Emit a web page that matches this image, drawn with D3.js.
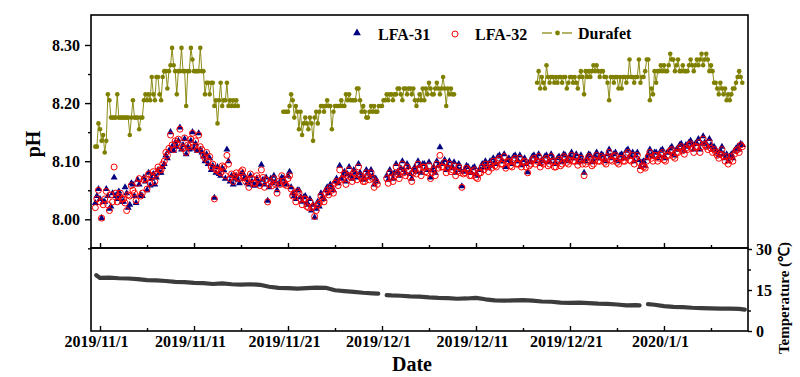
<!DOCTYPE html>
<html><head><meta charset="utf-8">
<script src="https://cdn.jsdelivr.net/npm/d3@7"></script>
<style>
body{margin:0;background:#fff}
svg{display:block}
text{font-family:"Liberation Serif","Times New Roman",serif;font-weight:bold;fill:#000}
</style>
</head><body>
<svg id="c" width="800" height="377"></svg>
<script>
// ---------- data ----------
const tickDays   = [0, 10, 20, 30, 40, 50, 60];
const tickLabels = ["2019/11/1","2019/11/11","2019/11/21","2019/12/1","2019/12/11","2019/12/21","2020/1/1"];
const minorTickDays = [5, 15, 25, 35, 45, 55, 65];
const phTicks = [8.00, 8.10, 8.20, 8.30];
const phMinorTicks = [7.95, 8.05, 8.15, 8.25];
const tempTicks = [0, 15, 30];
const tempMinorTicks = [7.5, 22.5];
const seriesNames = ["LFA-31", "LFA-32", "Durafet"];

// pH samples: 6 per day, first sample at day -0.5 (day 0 = 2019/11/1); one row per day
const sampleStartDay = -0.5, samplesPerDay = 6;

const lfa31 = [
 8.028,8.040,8.052,8.035,8.002,8.030,
 8.030,8.052,8.040,8.018,8.022,8.045,
 8.072,8.040,8.035,8.048,8.040,8.030,
 8.030,8.055,8.045,8.020,8.025,8.062,
 8.060,8.040,8.028,8.068,8.060,8.042,
 8.040,8.072,8.065,8.050,8.080,8.058,
 8.070,8.078,8.060,8.072,8.085,8.080,
 8.080,8.090,8.095,8.110,8.105,8.118,
 8.150,8.125,8.118,8.132,8.125,8.135,
 8.158,8.120,8.128,8.138,8.112,8.125,
 8.120,8.135,8.150,8.122,8.130,8.118,
 8.148,8.120,8.115,8.108,8.100,8.112,
 8.095,8.105,8.085,8.092,8.037,8.080,
 8.090,8.078,8.075,8.088,8.085,8.070,
 8.120,8.100,8.065,8.075,8.060,8.070,
 8.075,8.068,8.062,8.078,8.080,8.070,
 8.070,8.062,8.060,8.075,8.065,8.058,
 8.058,8.070,8.065,8.060,8.094,8.068,
 8.060,8.072,8.032,8.055,8.070,8.062,
 8.075,8.065,8.050,8.060,8.065,8.072,
 8.070,8.062,8.060,8.075,8.082,8.055,
 8.045,8.040,8.035,8.050,8.050,8.038,
 8.030,8.038,8.040,8.028,8.025,8.035,
 8.015,8.025,8.003,8.018,8.030,8.022,
 8.045,8.038,8.035,8.050,8.055,8.045,
 8.060,8.055,8.050,8.065,8.070,8.062,
 8.092,8.070,8.075,8.082,8.065,8.078,
 8.090,8.075,8.070,8.085,8.080,8.072,
 8.095,8.080,8.075,8.068,8.070,8.085,
 8.080,8.072,8.085,8.075,8.060,8.070,
 8.065,null,null,null,null,null,
 8.075,8.068,8.085,8.078,8.070,8.080,
 8.095,8.082,8.075,8.088,8.100,8.085,
 8.080,8.095,8.090,8.078,8.070,8.085,
 8.090,8.082,8.100,8.092,8.080,8.095,
 8.095,8.088,8.085,8.098,8.072,8.085,
 8.090,8.080,8.100,8.092,8.124,8.095,
 8.095,8.102,8.085,8.092,8.100,8.088,
 8.090,8.098,8.080,8.088,8.095,8.085,
 8.057,8.082,8.085,8.092,8.090,8.080,
 8.080,8.088,8.090,8.078,8.075,8.085,
 8.085,8.095,8.090,8.100,8.095,8.088,
 8.100,8.092,8.105,8.098,8.095,8.108,
 8.110,8.100,8.100,8.112,8.090,8.102,
 8.105,8.098,8.095,8.108,8.110,8.100,
 8.100,8.110,8.093,8.102,8.105,8.095,
 8.081,8.098,8.100,8.108,8.110,8.100,
 8.105,8.112,8.095,8.102,8.100,8.108,
 8.110,8.098,8.100,8.112,8.105,8.095,
 8.095,8.105,8.108,8.098,8.100,8.112,
 8.110,8.102,8.100,8.108,8.115,8.105,
 8.105,8.112,8.098,8.105,8.110,8.100,
 8.080,8.100,8.105,8.112,8.110,8.098,
 8.100,8.108,8.115,8.105,8.105,8.112,
 8.110,8.102,8.100,8.112,8.120,8.108,
 8.105,8.112,8.115,8.102,8.100,8.110,
 8.112,8.105,8.105,8.118,8.120,8.108,
 8.108,8.115,8.100,8.110,8.115,8.102,
 8.090,8.098,8.100,8.092,8.105,8.112,
 8.120,8.110,8.108,8.115,8.115,8.105,
 8.110,8.118,8.120,8.108,8.105,8.115,
 8.115,8.122,8.125,8.112,8.110,8.120,
 8.120,8.128,8.130,8.122,8.118,8.128,
 8.125,8.132,8.135,8.128,8.120,8.130,
 8.130,8.138,8.120,8.130,8.143,8.132,
 8.130,8.125,8.138,8.128,8.120,8.125,
 8.120,8.115,8.110,8.118,8.125,8.112,
 8.105,8.112,8.100,8.108,8.112,8.105,
 8.118,8.122,8.125,8.120,8.130,8.128
];

const lfa32 = [
 8.020,8.035,8.050,8.030,8.002,8.025,
 8.035,8.048,8.025,8.015,8.042,8.030,
 8.090,8.045,8.030,8.040,8.045,8.035,
 8.035,8.028,8.015,8.042,8.040,8.058,
 8.050,8.045,8.032,8.062,8.070,8.040,
 8.045,8.068,8.070,8.052,8.078,8.062,
 8.075,8.082,8.065,8.078,8.090,8.085,
 8.085,8.095,8.100,8.115,8.110,8.122,
 8.145,8.128,8.120,8.135,8.130,8.138,
 8.155,8.125,8.122,8.140,8.115,8.128,
 8.125,8.138,8.148,8.125,8.135,8.120,
 8.145,8.125,8.120,8.110,8.105,8.115,
 8.100,8.108,8.090,8.095,8.035,8.085,
 8.085,8.082,8.080,8.092,8.090,8.075,
 8.110,8.095,8.070,8.078,8.065,8.075,
 8.080,8.072,8.070,8.082,8.085,8.072,
 8.065,8.068,8.055,8.078,8.070,8.062,
 8.062,8.075,8.070,8.058,8.085,8.072,
 8.055,8.068,8.030,8.060,8.065,8.058,
 8.070,8.060,8.045,8.065,8.060,8.075,
 8.065,8.060,8.058,8.070,8.075,8.052,
 8.040,8.045,8.030,8.048,8.045,8.035,
 8.025,8.035,8.035,8.022,8.020,8.030,
 8.020,8.022,8.005,8.015,8.025,8.028,
 8.040,8.035,8.030,8.045,8.050,8.042,
 8.055,8.050,8.045,8.062,8.065,8.058,
 8.085,8.068,8.070,8.078,8.060,8.075,
 8.085,8.072,8.065,8.080,8.078,8.068,
 8.090,8.075,8.070,8.065,8.065,8.080,
 8.075,8.068,8.080,8.070,8.055,8.065,
 8.060,null,null,null,null,null,
 8.070,8.062,8.080,8.072,8.065,8.075,
 8.090,8.078,8.070,8.082,8.095,8.080,
 8.075,8.090,8.085,8.072,8.065,8.080,
 8.085,8.078,8.095,8.088,8.075,8.090,
 8.090,8.082,8.080,8.092,8.070,8.080,
 8.085,8.075,8.095,8.088,8.110,8.090,
 8.090,8.098,8.080,8.088,8.095,8.082,
 8.085,8.092,8.075,8.082,8.090,8.080,
 8.055,8.078,8.080,8.088,8.085,8.075,
 8.075,8.082,8.085,8.072,8.070,8.080,
 8.080,8.090,8.085,8.095,8.090,8.082,
 8.095,8.088,8.100,8.092,8.090,8.102,
 8.105,8.095,8.095,8.108,8.088,8.098,
 8.100,8.092,8.090,8.102,8.105,8.095,
 8.095,8.105,8.090,8.098,8.100,8.090,
 8.080,8.092,8.095,8.102,8.105,8.095,
 8.100,8.108,8.090,8.098,8.095,8.102,
 8.105,8.092,8.095,8.108,8.100,8.090,
 8.090,8.100,8.103,8.092,8.095,8.108,
 8.105,8.098,8.095,8.102,8.110,8.100,
 8.100,8.108,8.093,8.100,8.105,8.095,
 8.075,8.095,8.100,8.108,8.105,8.092,
 8.095,8.102,8.110,8.100,8.100,8.108,
 8.105,8.098,8.095,8.108,8.115,8.102,
 8.100,8.108,8.110,8.098,8.095,8.105,
 8.105,8.100,8.100,8.112,8.115,8.102,
 8.100,8.110,8.095,8.105,8.110,8.098,
 8.085,8.092,8.090,8.088,8.100,8.108,
 8.115,8.105,8.100,8.110,8.110,8.100,
 8.105,8.112,8.115,8.102,8.100,8.110,
 8.110,8.118,8.120,8.108,8.105,8.115,
 8.115,8.122,8.125,8.118,8.112,8.122,
 8.120,8.128,8.130,8.122,8.115,8.125,
 8.125,8.132,8.115,8.125,8.138,8.128,
 8.125,8.120,8.132,8.122,8.115,8.120,
 8.115,8.110,8.105,8.112,8.120,8.108,
 8.100,8.108,8.095,8.102,8.108,8.100,
 8.112,8.118,8.120,8.115,8.128,8.125
];

const durafet = [
 8.125,8.125,8.165,8.155,8.135,8.145,
 8.115,8.135,8.215,8.205,8.175,8.175,
 8.175,8.175,8.215,8.175,8.175,8.175,
 8.175,8.175,8.175,8.175,8.145,8.175,
 8.205,8.175,8.175,8.175,8.155,8.175,
 8.175,8.205,8.215,8.205,8.215,8.205,
 8.245,8.215,8.205,8.245,8.245,8.215,
 8.205,8.245,8.255,8.255,8.225,8.255,
 8.265,8.295,8.265,8.255,8.215,8.255,
 8.255,8.295,8.255,8.255,8.195,8.255,
 8.255,8.295,8.275,8.255,8.255,8.255,
 8.255,8.295,8.255,8.255,8.215,8.235,
 8.235,8.215,8.235,8.235,8.195,8.205,
 8.165,8.205,8.235,8.195,8.205,8.205,
 8.235,8.195,8.205,8.195,8.205,8.195,
 8.205,8.195,null,null,null,null,
 null,null,null,null,null,null,
 null,null,null,null,null,null,
 null,null,null,null,null,null,
 null,null,null,null,null,null,
 8.185,8.185,8.185,8.185,8.195,8.215,
 8.205,8.175,8.195,8.185,8.155,8.185,
 8.145,8.165,8.175,8.165,8.155,8.175,
 8.165,8.135,8.175,8.185,8.165,8.185,
 8.195,8.195,8.185,8.195,8.205,8.195,
 8.195,8.155,8.185,8.195,8.195,8.195,
 8.195,8.205,8.195,8.195,8.215,8.205,
 8.215,8.205,8.205,8.205,8.205,8.225,
 8.225,8.205,8.185,8.195,8.185,8.175,
 8.175,8.185,8.195,8.185,8.195,8.185,
 8.185,8.195,8.195,8.195,8.205,8.205,
 8.215,8.205,8.215,8.215,8.205,8.215,
 8.215,8.225,8.225,8.215,8.205,8.225,
 8.225,8.215,8.225,8.225,8.215,8.225,
 8.205,8.195,8.205,8.215,8.205,8.225,
 8.205,8.225,8.215,8.235,8.225,8.215,
 8.215,8.225,8.235,8.225,8.215,8.225,
 8.245,8.225,8.195,8.225,8.215,8.225,
 8.215,8.215,null,null,null,null,
 null,null,null,null,null,null,
 null,null,null,null,null,null,
 null,null,null,null,null,null,
 null,null,null,null,null,null,
 null,null,null,null,null,null,
 null,null,null,null,null,null,
 null,null,null,null,null,null,
 null,null,null,null,null,null,
 8.235,8.255,8.225,8.245,8.235,8.225,
 8.265,8.245,8.235,8.245,8.245,8.235,
 8.245,8.235,8.245,8.245,8.235,8.245,
 8.245,8.225,8.235,8.245,8.245,8.235,
 8.245,8.235,8.225,8.245,8.255,8.245,
 8.215,8.255,8.245,8.255,8.245,8.255,
 8.265,8.255,8.265,8.255,8.245,8.255,
 8.255,8.245,8.245,8.235,8.205,8.245,
 8.245,8.235,8.245,8.245,8.225,8.245,
 8.225,8.245,8.245,8.235,8.245,8.275,
 8.245,8.245,8.235,8.245,8.245,8.275,
 8.235,8.245,8.245,8.255,8.275,8.275,
 8.205,8.225,8.215,8.255,8.235,8.255,
 8.255,8.265,8.255,8.265,8.255,8.255,
 8.265,8.285,8.275,8.275,8.255,8.265,
 8.275,8.255,8.255,8.265,8.255,8.255,
 8.255,8.265,8.275,8.265,8.255,8.265,
 8.275,8.265,8.275,8.285,8.265,8.275,
 8.285,8.275,8.255,8.265,8.255,8.235,
 8.235,8.225,8.215,8.235,8.225,8.215,
 8.225,8.205,8.215,8.205,8.215,8.225,
 8.225,8.235,8.245,8.255,8.245,8.235
];

const tempDays = [-0.4,0,1,2,3,4,5,6,7,8,9,10,11,12,13,14,15,16,17,18,19,20,21,22,23,24,25,26,27,28,29,29.6,30,30.5,
 31,32,33,34,35,36,37,38,39,40,41,42,43,44,45,46,47,48,49,50,51,52,53,54,55,56,57,57.4,58,58.3,59,60,61,62,63,64,65,66,67,68,68.6];
const tempValues = [20.4,19.4,19.5,19.3,19.2,19.0,18.6,18.5,18.3,18.0,17.9,17.6,17.5,17.2,17.4,17.1,17.0,17.1,16.9,16.2,15.8,15.7,15.5,15.7,15.9,15.8,14.9,14.6,14.3,14.0,13.8,13.7,null,13.1,
 13.0,12.9,12.7,12.6,12.3,12.1,12.0,11.8,11.9,12.1,11.6,11.2,11.1,11.2,11.3,11.1,10.8,10.7,10.4,10.3,10.4,10.2,10.0,9.9,9.7,9.4,9.5,9.4,null,9.8,9.6,9.1,8.8,8.7,8.5,8.4,8.3,8.2,8.2,8.1,7.8];

// ---------- layout ----------
const L = 91, R = 748, T = 15, MID = 248, B = 331;
const svg = d3.select("#c");
const x = d3.scaleLinear().domain([-0.96, 68.94]).range([L, R]);
const yPH = d3.scaleLinear().domain([7.9506, 8.3516]).range([MID, T]);
const yT = d3.scaleLinear().domain([0, 30]).range([B, 249]);
const dayOf = i => sampleStartDay + i / samplesPerDay;

const COL31 = "#000080", COL32 = "#ff0000", COLD = "#808000", COLT = "#3c3c3c";

svg.append("clipPath").attr("id","clipTop").append("rect").attr("x",L).attr("y",T).attr("width",R-L).attr("height",MID-T);

function styleAxis(g, size){
  g.select(".domain").remove();
  g.selectAll("line").attr("stroke","#000").attr("stroke-width",1.4);
  g.selectAll("text").attr("font-family",'"Liberation Serif","Times New Roman",serif')
    .attr("font-weight","bold").attr("font-size",size).attr("fill","#000");
}

// pH axis (left)
svg.append("g").attr("transform",`translate(${L},0)`)
  .call(d3.axisLeft(yPH).tickValues(phTicks).tickFormat(d3.format(".2f")).tickSize(6).tickPadding(5))
  .call(g=>styleAxis(g,16));
svg.append("g").attr("transform",`translate(${L},0)`)
  .call(d3.axisLeft(yPH).tickValues(phMinorTicks).tickFormat("").tickSize(3))
  .call(g=>styleAxis(g,16));

// x ticks on top panel bottom edge (inward)
svg.append("g").attr("transform",`translate(0,${MID})`)
  .call(d3.axisBottom(x).tickValues(tickDays).tickFormat("").tickSizeInner(-5).tickSizeOuter(0))
  .call(g=>styleAxis(g,16));
svg.append("g").attr("transform",`translate(0,${MID})`)
  .call(d3.axisBottom(x).tickValues(minorTickDays).tickFormat("").tickSizeInner(-3).tickSizeOuter(0))
  .call(g=>styleAxis(g,16));

// x axis bottom panel with labels
const xAxisG = svg.append("g").attr("transform",`translate(0,${B})`)
  .call(d3.axisBottom(x).tickValues(tickDays).tickFormat((d,i)=>tickLabels[i]).tickSizeInner(-5).tickSizeOuter(0).tickPadding(5))
  .call(g=>styleAxis(g,16));
xAxisG.selectAll("text").attr("dx",-4);
svg.append("g").attr("transform",`translate(0,${B})`)
  .call(d3.axisBottom(x).tickValues(minorTickDays).tickFormat("").tickSizeInner(-3).tickSizeOuter(0))
  .call(g=>styleAxis(g,16));

// temperature axis (right)
svg.append("g").attr("transform",`translate(${R},0)`)
  .call(d3.axisRight(yT).tickValues(tempTicks).tickFormat(d3.format("d")).tickSize(4).tickPadding(4))
  .call(g=>styleAxis(g,16));
svg.append("g").attr("transform",`translate(${R},0)`)
  .call(d3.axisRight(yT).tickValues(tempMinorTicks).tickFormat("").tickSize(3))
  .call(g=>styleAxis(g,16));

// ---------- marks ----------
const plot = svg.append("g").attr("clip-path","url(#clipTop)");

// Durafet
plot.append("path").datum(durafet)
  .attr("fill","none").attr("stroke",COLD).attr("stroke-width",0.9)
  .attr("d", d3.line().defined(v=>v!=null).x((v,i)=>x(dayOf(i))).y(v=>yPH(v)));
plot.append("g").selectAll("circle").data(durafet.map((v,i)=>[dayOf(i),v]).filter(d=>d[1]!=null))
  .join("circle").attr("cx",d=>x(d[0])).attr("cy",d=>yPH(d[1])).attr("r",2.3).attr("fill",COLD);

// LFA-31 triangles
const tri = d3.symbol().type(d3.symbolTriangle).size(21);
plot.append("g").selectAll("path").data(lfa31.map((v,i)=>[dayOf(i),v]).filter(d=>d[1]!=null))
  .join("path").attr("d",tri).attr("transform",d=>`translate(${x(d[0])},${yPH(d[1])})`).attr("fill",COL31);

// LFA-32 open circles
plot.append("g").selectAll("circle").data(lfa32.map((v,i)=>[dayOf(i),v]).filter(d=>d[1]!=null))
  .join("circle").attr("cx",d=>x(d[0])).attr("cy",d=>yPH(d[1])).attr("r",3)
  .attr("fill","none").attr("stroke",COL32).attr("stroke-width",1);

// Temperature
svg.append("path").datum(tempDays.map((d,i)=>[d,tempValues[i]]))
  .attr("fill","none").attr("stroke",COLT).attr("stroke-width",4.2).attr("stroke-linecap","round").attr("stroke-linejoin","round")
  .attr("d", d3.line().defined(d=>d[1]!=null).x(d=>x(d[0])).y(d=>yT(d[1])));

// frames
svg.append("rect").attr("x",L).attr("y",T).attr("width",R-L).attr("height",MID-T).attr("fill","none").attr("stroke","#000").attr("stroke-width",1.6);
svg.append("rect").attr("x",L).attr("y",MID).attr("width",R-L).attr("height",B-MID).attr("fill","none").attr("stroke","#000").attr("stroke-width",1.6);

// ---------- legend ----------
const lg = svg.append("g");
lg.append("path").attr("d",d3.symbol().type(d3.symbolTriangle).size(26)).attr("transform","translate(357,33)").attr("fill",COL31);
lg.append("text").attr("x",378).attr("y",39.5).attr("font-size",16).text(seriesNames[0]);
lg.append("circle").attr("cx",455).attr("cy",34).attr("r",3).attr("fill","none").attr("stroke",COL32).attr("stroke-width",1);
lg.append("text").attr("x",475).attr("y",39.5).attr("font-size",16).text(seriesNames[1]);
lg.append("line").attr("x1",542).attr("x2",552).attr("y1",33).attr("y2",33).attr("stroke",COLD).attr("stroke-width",1.2);
lg.append("line").attr("x1",562).attr("x2",572).attr("y1",33).attr("y2",33).attr("stroke",COLD).attr("stroke-width",1.2);
lg.append("circle").attr("cx",557.5).attr("cy",33).attr("r",2.4).attr("fill",COLD);
lg.append("text").attr("x",578).attr("y",38.5).attr("font-size",16).text(seriesNames[2]);

// ---------- titles ----------
svg.append("text").attr("transform","translate(40,144) rotate(-90)").attr("text-anchor","middle").attr("font-size",20).text("pH");
svg.append("text").attr("x",412).attr("y",371).attr("text-anchor","middle").attr("font-size",20).text("Date");
svg.append("text").attr("transform","translate(789,298) rotate(-90)").attr("text-anchor","middle").attr("font-size",15).text("Temperature (℃)");
</script>
</body></html>
